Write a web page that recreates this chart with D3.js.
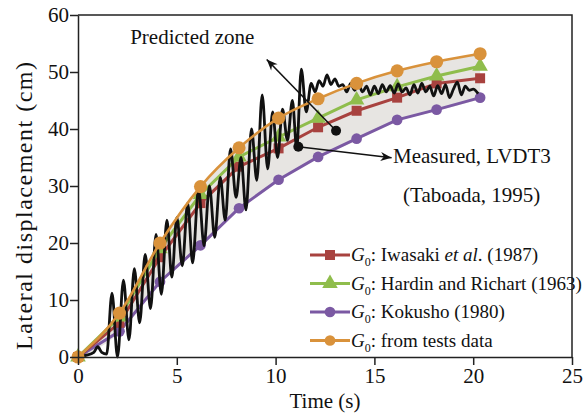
<html>
<script src='https://d3js.org/d3.v7.min.js'></script>
<style>
  body { margin: 0; background: #fff; }
  text { font-family: 'Liberation Serif', 'Times New Roman', serif; fill: #111; }
</style>
<body onload='init()'>
<svg width=587 height=414></svg>
<script>
// Data
const times   = [0, 2.1, 4.15, 6.2, 8.15, 10.15, 12.15, 14.1, 16.15, 18.15, 20.35]
const iwasaki = [0, 6, 17.5, 27, 33.4, 36.6, 40.3, 43.2, 45.5, 48.0, 48.9]
const hardin  = [0, 7, 19, 28.5, 35.1, 38.6, 41.9, 45.1, 47.4, 49.3, 51.0]
const kokusho = [0, 4.5, 13.2, 19.6, 26.1, 31.1, 35.1, 38.3, 41.6, 43.4, 45.5]
const tests   = [0, 7.7, 20, 29.9, 36.7, 41.9, 45.3, 48.0, 50.2, 51.8, 53.2]

// Measured, LVDT3 (peaks and troughs)
const measuredT = [0, 0.4, 0.8, 1.0, 1.2, 1.45, 1.72, 2.0, 2.3, 2.58, 2.85, 3.12, 3.4, 3.67, 3.95,
  4.22, 4.5, 4.75, 5.0, 5.28, 5.55, 5.8, 6.1, 6.38, 6.65, 6.92, 7.2, 7.45, 7.72, 8.0, 8.25, 8.5,
  8.78, 9.05, 9.32, 9.6, 9.85, 10.1, 10.35, 10.6, 10.85, 11.07, 11.3, 11.55, 11.8, 12.0,
  12.2, 12.4, 12.6, 12.8, 13.0, 13.2, 13.4, 13.6, 13.8, 14.0, 14.2, 14.4, 14.6, 14.8, 15.0,
  15.2, 15.4, 15.6, 15.8, 16.0, 16.2, 16.4, 16.6, 16.8, 17.0, 17.2, 17.4, 17.6, 17.8, 18.0,
  18.2, 18.4, 18.6, 18.8, 19.0, 19.2, 19.4, 19.6, 19.8, 20.0, 20.25]
const measuredV = [0, 0.3, 0.8, 1.8, 0.8, 0.5, 11.2, 0, 13.5, 3, 15.5, 6, 18, 8.5, 21.5,
  11, 24, 14, 24.5, 16, 27, 16.5, 29.5, 19.5, 30, 21, 31.5, 24, 36.5, 28, 35, 25.8,
  40, 31, 46, 33, 43, 35, 43.5, 38, 45, 36.5, 50.5, 43, 48, 46.5,
  48.5, 47.5, 49.5, 47.8, 48.8, 47.5, 47.8, 46.5, 48, 46.8, 47.8, 46.5, 47.5, 46, 47.5,
  46.2, 47.8, 46.5, 47.6, 46.3, 47.9, 46.5, 47.2, 46, 47.8, 46.3, 48, 46.5, 47.5, 45.8,
  47.6, 46.2, 47.8, 45.5, 47, 48.2, 46, 47.5, 46.8, 47, 46.2]

const xTicks = [0, 5, 10, 15, 20, 25]
const yTicks = [0, 10, 20, 30, 40, 50, 60]

function init() {
    const svg = d3.select("svg")
    const margin = {left: 78, right: 15, top: 15, bottom: 57}
    const W = 587, H = 414

    const x = d3.scaleLinear().domain([0, 25]).range([margin.left, W - margin.right])
    const y = d3.scaleLinear().domain([0, 60]).range([H - margin.bottom, margin.top])

    // Predicted zone (between Kokusho and tests data)
    const zone = times.map((t, i) => ({t: t, lo: kokusho[i], hi: tests[i]}))
    svg.append("path")
      .datum(zone)
      .attr("fill", "#e7e5e2")
      .attr("d", d3.area().x(d => x(d.t)).y0(d => y(d.lo) + 1.5).y1(d => y(d.hi)).curve(d3.curveMonotoneX))

    const series = [
      {name: "iwasaki", vals: iwasaki, color: "#a8423f", shape: "square"},
      {name: "hardin",  vals: hardin,  color: "#8fbd4c", shape: "triangle"},
      {name: "kokusho", vals: kokusho, color: "#7b59a3", shape: "circle"},
      {name: "tests",   vals: tests,   color: "#d9923b", shape: "bigcircle"}
    ]
    const sym = {
      square: d3.symbol().type(d3.symbolSquare).size(100),
      triangle: d3.symbol().type(d3.symbolTriangle).size(105),
      circle: d3.symbol().type(d3.symbolCircle).size(90),
      bigcircle: d3.symbol().type(d3.symbolCircle).size(135)
    }

    const line = d3.line().x(d => x(d[0])).y(d => y(d[1]))

    // draw order: purple, red, green first
    const order = [series[2], series[0], series[1]]
    order.forEach(s => {
      const pts = times.map((t, i) => [t, s.vals[i]])
      svg.append("path").datum(pts)
        .attr("fill", "none").attr("stroke", s.color).attr("stroke-width", 3)
        .attr("d", line)
      svg.append("g").selectAll("path").data(pts).enter().append("path")
        .attr("transform", d => `translate(${x(d[0])},${y(d[1])})`)
        .attr("d", sym[s.shape]())
        .attr("fill", s.color)
    })

    // Measured line
    const meas = measuredT.map((t, i) => [t, measuredV[i]])
    svg.append("path").datum(meas)
      .attr("fill", "none").attr("stroke", "#111").attr("stroke-width", 2.8)
      .attr("stroke-linejoin", "round")
      .attr("d", d3.line().x(d => x(d[0])).y(d => y(d[1])).curve(d3.curveMonotoneX))

    // Tests data on top
    const ts = series[3]
    const tpts = times.map((t, i) => [t, ts.vals[i]])
    svg.append("path").datum(tpts)
      .attr("fill", "none").attr("stroke", ts.color).attr("stroke-width", 2.6)
      .attr("d", line.curve(d3.curveMonotoneX))
    svg.append("g").selectAll("path").data(tpts).enter().append("path")
      .attr("transform", d => `translate(${x(d[0])},${y(d[1])})`)
      .attr("d", sym.bigcircle())
      .attr("fill", ts.color)

    // Axes
    const xAxis = svg.append("g")
      .attr("transform", `translate(0,${y(0)})`)
      .call(d3.axisBottom(x).tickValues(xTicks).tickSize(8).tickPadding(3).tickSizeOuter(0))
    const yAxis = svg.append("g")
      .attr("transform", `translate(${x(0)},0)`)
      .call(d3.axisLeft(y).tickValues(yTicks).tickSize(8).tickPadding(1).tickSizeOuter(0))
    ;[xAxis, yAxis].forEach(a => {
      a.selectAll("text").style("font-size", "21px").attr("fill", "#111")
        .style("font-family", "'Liberation Serif', serif")
      a.selectAll("line,path").attr("stroke", "#222").attr("stroke-width", 1.5)
    })
    // frame
    svg.append("path")
      .attr("d", `M${x(0)},${y(60)}H${x(25)}V${y(0)}`)
      .attr("fill", "none").attr("stroke", "#222").attr("stroke-width", 1.5)

    // Axis titles
    svg.append("text")
      .attr("x", (x(0) + x(25)) / 2 + 0).attr("y", 408)
      .attr("text-anchor", "middle").style("font-size", "21px")
      .text("Time (s)")
    svg.append("text")
      .attr("transform", `translate(32,${206}) rotate(-90)`)
      .attr("text-anchor", "middle").style("font-size", "24px")
      .attr("textLength", 288).attr("lengthAdjust", "spacing")
      .text("Lateral displacement (cm)")

    // Annotations
    function arrow(x1, y1, x2, y2) {
      svg.append("line").attr("x1", x1).attr("y1", y1).attr("x2", x2).attr("y2", y2)
        .attr("stroke", "#111").attr("stroke-width", 1.6)
      const ang = Math.atan2(y2 - y1, x2 - x1)
      const L = 11, w = 4.5
      const bx = x2 - L * Math.cos(ang), by = y2 - L * Math.sin(ang)
      const px = -Math.sin(ang) * w, py = Math.cos(ang) * w
      svg.append("path")
        .attr("d", `M${x2},${y2}L${bx + px},${by + py}L${bx + L * 0.3 * Math.cos(ang)},${by + L * 0.3 * Math.sin(ang)}L${bx - px},${by - py}Z`)
        .attr("fill", "#111")
      svg.append("circle").attr("cx", x1).attr("cy", y1).attr("r", 5).attr("fill", "#111")
    }
    arrow(x(13.06), y(39.7), x(9.55), y(52.2))
    arrow(x(11.15), y(36.9), x(15.87), y(34.96))

    svg.append("text").attr("x", x(2.64)).attr("y", y(54.9)).style("font-size", "21px").text("Predicted zone")
    svg.append("text").attr("x", x(15.94)).attr("y", y(34.0)).style("font-size", "21px").text("Measured, LVDT3")
    svg.append("text").attr("x", x(16.45)).attr("y", y(27.2)).style("font-size", "21px").text("(Taboada, 1995)")

    // Legend
    const legend = [
      {s: series[0], parts: [[": Iwasaki ", false], ["et al", true], [". (1987)", false]]},
      {s: series[1], parts: [[": Hardin and Richart (1963)", false]]},
      {s: series[2], parts: [[": Kokusho (1980)", false]]},
      {s: series[3], parts: [[": from tests data", false]]}
    ]
    const lg = svg.append("g")
    legend.forEach((d, i) => {
      const cy = 255 + i * 28.5
      lg.append("line").attr("x1", 310).attr("x2", 350).attr("y1", cy).attr("y2", cy)
        .attr("stroke", d.s.color).attr("stroke-width", 3.2)
      lg.append("path").attr("transform", `translate(330,${cy})`)
        .attr("d", sym[d.s.shape === "bigcircle" ? "circle" : d.s.shape]()).attr("fill", d.s.color)
      const t = lg.append("text").attr("x", 351).attr("y", cy + 6).style("font-size", "19px")
      t.append("tspan").style("font-style", "italic").text("G")
      t.append("tspan").style("font-size", "12px").attr("dy", 5).text("0")
      d.parts.forEach((p, j) => {
        const sp = t.append("tspan").text(p[0])
        if (j === 0) sp.attr("dy", -5)
        if (p[1]) sp.style("font-style", "italic")
      })
    })
}
</script>
</body>
</html>
